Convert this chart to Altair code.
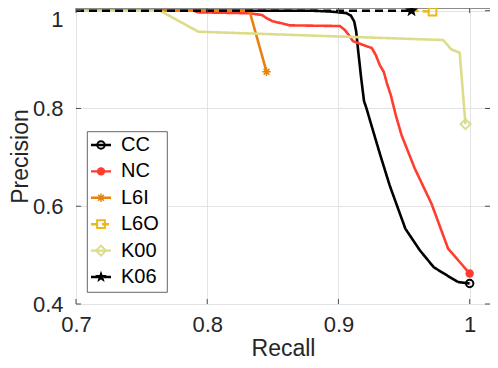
import math
import altair as alt
import pandas as pd

# ---------------- data ----------------
names = ["CC", "NC", "L6I", "L6O", "K00", "K06"]
colors = ["#000000", "#FF3D2E", "#E8820C", "#EBB81A", "#DCDC8A", "#000000"]

cc_recall = [0.70, 0.88, 0.895, 0.906, 0.9095, 0.912, 0.9135, 0.915, 0.9172, 0.9195,
             0.9214, 0.924, 0.9315, 0.939, 0.951, 0.962, 0.9727, 0.991, 1.0]
cc_prec = [1.0, 1.0, 0.998, 0.995, 0.99, 0.978, 0.958, 0.919, 0.865, 0.815,
           0.80, 0.776, 0.708, 0.643, 0.554, 0.51, 0.475, 0.445, 0.442]

nc_recall = [0.70, 0.79, 0.7929, 0.8325, 0.8417, 0.8439, 0.8493, 0.863, 0.9011, 0.9049,
             0.9079, 0.911, 0.9148, 0.9254, 0.9285, 0.9315, 0.9346, 0.9369, 0.9399,
             0.9437, 0.9481, 0.9582, 0.9709, 0.9836, 1.0]
nc_prec = [1.0, 1.0, 0.9967, 0.9947, 0.9912, 0.9871, 0.9789, 0.970, 0.9686, 0.9605,
           0.9502, 0.9379, 0.9338, 0.9236, 0.9092, 0.8887, 0.8744, 0.8518, 0.8273,
           0.7863, 0.7453, 0.677, 0.6053, 0.5131, 0.4625]

l6i_recall = [0.70, 0.831, 0.8325, 0.8452]
l6i_prec = [1.0, 1.0, 0.997, 0.875]

l6o_recall = [0.9557, 0.9717]
l6o_prec = [1.0, 0.998]

k00_recall = [0.70, 0.764, 0.7932, 0.9798, 0.9821, 0.986, 0.9924, 0.9968]
k00_prec = [1.0, 1.0, 0.957, 0.940, 0.933, 0.921, 0.914, 0.768]

k06_recall = [0.70, 0.9557]
k06_prec = [1.0, 1.0]

x_ticks = [0.7, 0.8, 0.9, 1.0]
y_ticks = [0.4, 0.6, 0.8, 1.0]

series = {
    "CC": (cc_recall, cc_prec),
    "NC": (nc_recall, nc_prec),
    "L6I": (l6i_recall, l6i_prec),
    "L6O": (l6o_recall, l6o_prec),
    "K00": (k00_recall, k00_prec),
    "K06": (k06_recall, k06_prec),
}

# ---------------- styles ----------------
W, H = 414, 296
FONT = "Liberation Sans"
TXT = "#262626"

star_pts = []
for k in range(10):
    r = 1.0 if k % 2 == 0 else 0.42
    a = math.radians(-90 + 36 * k)
    star_pts.append(f"{r * math.cos(a):.3f},{r * math.sin(a):.3f}")
STAR = "M" + "L".join(star_pts) + "Z"
ASTER = "M-1,0L1,0M0,-1L0,1M-0.7,-0.7L0.7,0.7M-0.7,0.7L0.7,-0.7"

style = {
    "CC": dict(dash=[1, 0], shape="circle", filled=False, size=55, sw=2),
    "NC": dict(dash=[1, 0], shape="circle", filled=True, size=70, sw=2),
    "L6I": dict(dash=[1, 0], shape=ASTER, filled=False, size=70, sw=1.5),
    "L6O": dict(dash=[7, 4], shape="square", filled=False, size=60, sw=2),
    "K00": dict(dash=[1, 0], shape="diamond", filled=False, size=100, sw=2),
    "K06": dict(dash=[8, 5], shape=STAR, filled=True, size=190, sw=1),
}

xs = alt.Scale(domain=[0.7, 1.0155], nice=False, zero=False)
ys = alt.Scale(domain=[0.4, 1.0055], nice=False, zero=False)

x_axis = alt.Axis(values=x_ticks, format="~g", title="Recall", grid=True, gridColor="#e3e3e3",
                  ticks=False, domain=False, labelPadding=10, labelFontSize=22,
                  labelFont=FONT, labelColor=TXT, labelFlush=False,
                  titleFont=FONT, titleFontSize=23, titleFontWeight="normal",
                  titleColor=TXT, titleBaseline="alphabetic", titleY=51)
y_axis = alt.Axis(values=y_ticks, format="~g", title="Precision", grid=True, gridColor="#e3e3e3",
                  ticks=False, domain=False, labelPadding=13, labelFontSize=22,
                  labelFont=FONT, labelColor=TXT, labelFlush=False,
                  labelOffset={"condition": {"test": "datum.value == 1", "value": 8.5}, "value": 0},
                  titleFont=FONT, titleFontSize=23, titleFontWeight="normal",
                  titleColor=TXT, titleBaseline="alphabetic", titleX=-49)


def X(field):
    return alt.X(field, scale=xs, axis=x_axis)


def Y(field):
    return alt.Y(field, scale=ys, axis=y_axis)


layers = []

for name, color in zip(names, colors):
    rec, prec = series[name]
    st = style[name]
    df = pd.DataFrame({"recall": rec, "precision": prec, "i": list(range(len(rec)))})
    layers.append(alt.Chart(df).mark_line(color=color, strokeWidth=2.6, strokeDash=st["dash"]).encode(
        x=X("recall:Q"), y=Y("precision:Q"), order=alt.Order("i:Q"),
    ))
    layers.append(alt.Chart(df.iloc[[-1]]).mark_point(
        shape=st["shape"], filled=st["filled"], size=st["size"],
        color=color, strokeWidth=st["sw"], opacity=1).encode(
        x=X("recall:Q"), y=Y("precision:Q"),
    ))

# inner tick marks (MATLAB style box ticks)
xt = pd.DataFrame({"t": x_ticks})
yt = pd.DataFrame({"t": y_ticks})
TCK = "#4d4d4d"
layers += [
    alt.Chart(xt).mark_rule(color=TCK, strokeWidth=1).encode(
        x=X("t:Q"), y=alt.value(H), y2=alt.value(H - 5)),
    alt.Chart(xt).mark_rule(color=TCK, strokeWidth=1).encode(
        x=X("t:Q"), y=alt.value(0), y2=alt.value(5)),
    alt.Chart(yt).mark_rule(color=TCK, strokeWidth=1).encode(
        y=Y("t:Q"), x=alt.value(0), x2=alt.value(5)),
    alt.Chart(yt).mark_rule(color=TCK, strokeWidth=1).encode(
        y=Y("t:Q"), x=alt.value(W), x2=alt.value(W - 5)),
]

# ---------------- legend (drawn box, MATLAB style) ----------------
layers.append(
    alt.Chart(pd.DataFrame({"k": [0]})).mark_rect(fill="white", stroke="#666666", strokeWidth=1).encode(
        x=alt.value(11.3), x2=alt.value(91.3), y=alt.value(123.7), y2=alt.value(284.3)))
for i, (name, color) in enumerate(zip(names, colors)):
    st = style[name]
    ldf = pd.DataFrame({"name": [name]})
    yv = alt.value(137 + i * 26.4)
    layers.append(alt.Chart(ldf).mark_rule(color=color, strokeWidth=2.4, strokeDash=st["dash"]).encode(
        x=alt.value(15), x2=alt.value(35), y=yv))
    layers.append(alt.Chart(ldf).mark_point(
        shape=st["shape"], filled=st["filled"],
        size=st["size"] * (0.8 if name == "K06" else 1.0),
        color=color, strokeWidth=st["sw"], opacity=1).encode(x=alt.value(25), y=yv))
    layers.append(alt.Chart(ldf).mark_text(
        align="left", baseline="middle", fontSize=20, font=FONT, color="#000000").encode(
        x=alt.value(45), y=yv, text="name:N"))

chart = alt.layer(*layers).properties(
    width=W, height=H,
    padding={"left": 68, "top": 0, "right": 0, "bottom": 56},
    autosize=alt.AutoSizeParams(type="none"),
).configure_view(stroke="#8c8c8c", strokeWidth=1)

chart.save("out.html", embed_options={"renderer": "svg", "actions": False})
